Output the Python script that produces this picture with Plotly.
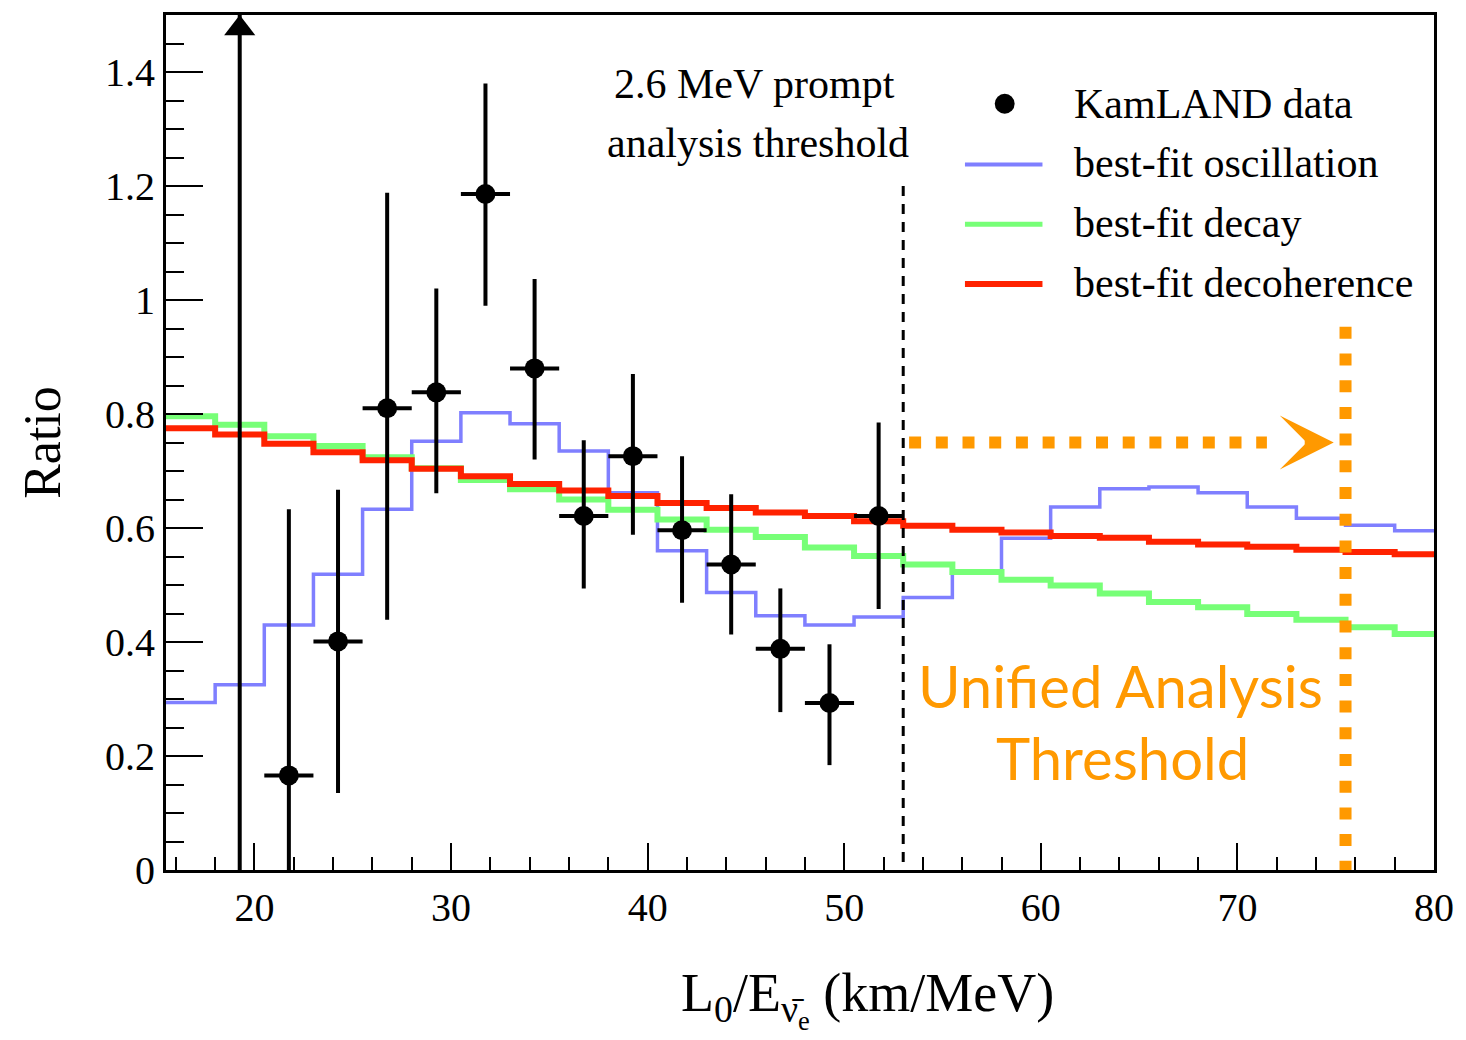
import plotly.graph_objects as go

# ---- model histograms: ratio vs L0/E, 2.5 km/MeV bins ----
bin_edges = [15.5, 18.0, 20.5, 23.0, 25.5, 28.0, 30.5, 33.0, 35.5, 38.0, 40.5, 43.0,
             45.5, 48.0, 50.5, 53.0, 55.5, 58.0, 60.5, 63.0, 65.5, 68.0, 70.5, 73.0,
             75.5, 78.0, 80.5]
oscillation = [0.294, 0.325, 0.430, 0.519, 0.633, 0.752, 0.802, 0.783, 0.735, 0.662,
               0.560, 0.487, 0.446, 0.430, 0.444, 0.478, 0.525, 0.582, 0.637, 0.669,
               0.672, 0.662, 0.637, 0.617, 0.605, 0.595]
decay = [0.796, 0.781, 0.761, 0.744, 0.724, 0.705, 0.684, 0.668, 0.650, 0.632,
         0.615, 0.597, 0.584, 0.566, 0.551, 0.536, 0.523, 0.509, 0.499, 0.485,
         0.470, 0.461, 0.449, 0.439, 0.426, 0.414]
decoherence = [0.775, 0.764, 0.748, 0.733, 0.719, 0.704, 0.691, 0.677, 0.666, 0.656,
               0.644, 0.635, 0.627, 0.621, 0.612, 0.604, 0.597, 0.592, 0.586, 0.583,
               0.576, 0.571, 0.567, 0.562, 0.558, 0.554]

# ---- KamLAND data points (first point is off scale) ----
data_x = [19.25, 21.75, 24.25, 26.75, 29.25, 31.75, 34.25, 36.75, 39.25, 41.75,
          44.25, 46.75, 49.25, 51.75]
data_y = [1.95, 0.166, 0.401, 0.810, 0.838, 1.186, 0.880, 0.621, 0.726, 0.596,
          0.536, 0.388, 0.293, 0.621]
err_hi = [0.60, 0.467, 0.266, 0.378, 0.182, 0.194, 0.157, 0.133, 0.144, 0.130,
          0.123, 0.106, 0.103, 0.164]
err_lo = [1.95, 0.467, 0.266, 0.371, 0.177, 0.196, 0.160, 0.127, 0.138, 0.127,
          0.123, 0.111, 0.109, 0.163]
half_bin = 1.25

prompt_threshold = 53.0      # 2.6 MeV prompt analysis threshold
unified_threshold = 75.5     # unified analysis threshold

X_MIN, X_MAX = 15.5, 80.0
Y_MIN, Y_MAX = 0.0, 1.5

W, H = 1466, 1040
ML, MR, MT, MB = 166, 24, 12, 170
PLOT_W = W - ML - MR
PLOT_H = H - MT - MB
PX_PER_Y = PLOT_H / (Y_MAX - Y_MIN)

SERIF = "Liberation Serif, Times New Roman, serif"
ORANGE = "#FF9900"
BLUE = "#7F7FFF"
GREEN = "#77FF77"
RED = "#FF2200"


def paper_x(px):
    return (px - ML) / PLOT_W


def paper_y(py):
    return (H - MB - py) / PLOT_H


def step_y(vals):
    return list(vals) + [vals[-1]]


fig = go.Figure()

for vals, color, width, name in [
    (oscillation, BLUE, 3.5, "best-fit oscillation"),
    (decay, GREEN, 6, "best-fit decay"),
    (decoherence, RED, 6, "best-fit decoherence"),
]:
    fig.add_trace(go.Scatter(
        x=bin_edges, y=step_y(vals), mode="lines", name=name,
        line=dict(color=color, width=width, shape="hv"), showlegend=False,
    ))

fig.add_trace(go.Scatter(
    x=data_x, y=data_y, mode="markers", name="KamLAND data",
    marker=dict(color="black", size=20),
    error_y=dict(type="data", symmetric=False, array=err_hi, arrayminus=err_lo,
                 color="black", thickness=4, width=0),
    error_x=dict(type="constant", value=half_bin, color="black", thickness=4, width=0),
    showlegend=False,
))

# arrow head marking the off-scale first point
fig.add_trace(go.Scatter(
    x=[data_x[0]], y=[Y_MAX - 13.5 / PX_PER_Y], mode="markers",
    marker=dict(symbol="triangle-up", size=27, color="black"),
    cliponaxis=False, showlegend=False, hoverinfo="skip",
))

shapes = [
    # prompt threshold
    dict(type="line", xref="x", yref="y", x0=prompt_threshold, x1=prompt_threshold,
         y0=1.2, y1=0, line=dict(color="black", width=3, dash="10px,8px")),
    # unified threshold
    dict(type="line", xref="x", yref="y", x0=unified_threshold, x1=unified_threshold,
         y0=0.953, y1=0, line=dict(color=ORANGE, width=12, dash="12px,14.7px")),
    # dotted arrow shaft
    dict(type="line", xref="x", yref="y", x0=53.3, x1=71.5, y0=0.75, y1=0.75,
         line=dict(color=ORANGE, width=12, dash="12px,14.7px")),
]

annotations = [
    dict(x=74.9, y=0.75, ax=73.35, ay=0.75, xref="x", yref="y", axref="x", ayref="y",
         text="", showarrow=True, arrowhead=3, arrowcolor=ORANGE, arrowwidth=12,
         arrowsize=0.75),
    dict(x=45.45, y=1.379, xref="x", yref="y", text="2.6 MeV prompt", showarrow=False,
         font=dict(family=SERIF, size=42, color="black"), xanchor="center", yanchor="middle"),
    dict(x=45.6, y=1.275, xref="x", yref="y", text="analysis threshold", showarrow=False,
         font=dict(family=SERIF, size=42, color="black"), xanchor="center", yanchor="middle"),
    dict(x=paper_x(1127), y=paper_y(685), xref="paper", yref="paper",
         text="Unified Analysis", showarrow=False,
         font=dict(family="Lato, sans-serif", size=58, color=ORANGE),
         xanchor="center", yanchor="middle"),
    dict(x=paper_x(1129), y=paper_y(757), xref="paper", yref="paper",
         text="Threshold", showarrow=False,
         font=dict(family="Lato, sans-serif", size=58, color=ORANGE),
         xanchor="center", yanchor="middle"),
    # x-axis title, right-aligned under the axis
    dict(x=paper_x(1062), y=paper_y(1000), xref="paper", yref="paper",
         text="L<sub>0</sub>/E<sub>ν\u0304<sub>e</sub></sub> (km/MeV)", showarrow=False,
         font=dict(family=SERIF, size=54, color="black"),
         xanchor="right", yanchor="middle"),
]

# legend
legend_rows = [
    ("KamLAND data", None, 0, 101),
    ("best-fit oscillation", BLUE, 4, 161),
    ("best-fit decay", GREEN, 5, 221),
    ("best-fit decoherence", RED, 6, 281),
]
for label, color, lw, py in legend_rows:
    annotations.append(dict(
        x=paper_x(1078), y=paper_y(py), xref="paper", yref="paper", text=label,
        showarrow=False, xanchor="left", yanchor="middle",
        font=dict(family=SERIF, size=42, color="black"),
    ))
    if color is None:
        r = 10
        shapes.append(dict(type="circle", xref="paper", yref="paper",
                           x0=paper_x(1010 - r), x1=paper_x(1010 + r),
                           y0=paper_y(py + r), y1=paper_y(py - r),
                           fillcolor="black", line=dict(width=0)))
    else:
        shapes.append(dict(type="line", xref="paper", yref="paper",
                           x0=paper_x(970), x1=paper_x(1048),
                           y0=paper_y(py + 1), y1=paper_y(py + 1),
                           line=dict(color=color, width=lw)))

fig.update_layout(
    width=W, height=H,
    margin=dict(l=ML, r=MR, t=MT, b=MB, pad=0),
    paper_bgcolor="white", plot_bgcolor="white",
    shapes=shapes, annotations=annotations,
    showlegend=False,
)

fig.update_xaxes(
    range=[X_MIN, X_MAX], tickvals=[20, 30, 40, 50, 60, 70, 80],
    ticks="inside", ticklen=27, tickwidth=2, tickcolor="black",
    minor=dict(dtick=2, tick0=0, ticks="inside", ticklen=13, tickwidth=2, tickcolor="black"),
    showline=True, linewidth=3, linecolor="black", mirror=True,
    showgrid=False, zeroline=False,
    tickfont=dict(family=SERIF, size=40, color="black"),
)
fig.update_yaxes(
    range=[Y_MIN, Y_MAX], dtick=0.2, tick0=0,
    ticks="inside", ticklen=37, tickwidth=2, tickcolor="black",
    minor=dict(dtick=0.05, tick0=0, ticks="inside", ticklen=18, tickwidth=2, tickcolor="black"),
    showline=True, linewidth=3, linecolor="black", mirror=True,
    showgrid=False, zeroline=False,
    tickfont=dict(family=SERIF, size=40, color="black"),
    title=dict(text="Ratio", font=dict(family=SERIF, size=52, color="black"), standoff=28),
)

fig.write_html("out.html")
